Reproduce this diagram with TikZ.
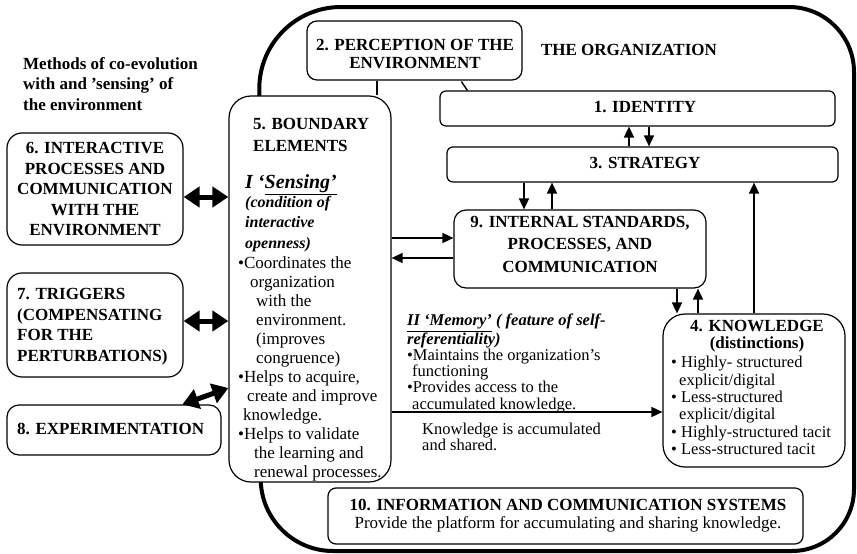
\documentclass[tikz,border=0pt]{standalone}
\usepackage{fontspec}
\setmainfont{Liberation Serif}
\usetikzlibrary{arrows.meta,calc}

\begin{document}
\begin{tikzpicture}[x=1pt,y=-1pt,
  box/.style={draw, line width=1.2pt, rounded corners=#1, fill=white, inner sep=0pt},
  box/.default=8pt,
  hd/.style={font=\fontsize{17}{20.5}\selectfont\bfseries, inner sep=0pt},
  txt/.style={font=\fontsize{17}{19}\selectfont, inner sep=0pt},
  arr/.style={line width=1.6pt, -{Triangle[length=11pt,width=10pt]}},
  dbl/.style={line width=5pt, {Triangle[length=16pt,width=20pt]}-{Triangle[length=16pt,width=20pt]}},
  link/.style={line width=1.4pt},
]
\useasboundingbox (0,0) rectangle (857,554);

% the organization's outer boundary
\draw[line width=4pt] (260,300) [rounded corners=82pt] -- (259,7)
  [rounded corners=65pt] -- (854,7) [rounded corners=62pt] -- (854,551)
  [rounded corners=72pt] -- (261,551) -- cycle;

% title texts
\node[hd, anchor=north west, align=left] (meth) at (23,57)
  {Methods of co-evolution\\with and ’sensing’ of\\the environment};
\node[hd] (org) at (629,50) {THE ORGANIZATION};

% boxes
\node[box=10pt, minimum width=215pt, minimum height=59pt] (b2) at (414.5,50.5) {};
\node[box=6pt, minimum width=395pt, minimum height=35pt] (b1) at (637.5,108.5) {};
\node[box=6pt, minimum width=391pt, minimum height=35pt] (b3) at (642.5,164.5) {};
\node[box=12pt, minimum width=252pt, minimum height=78pt] (b9) at (580,249) {};
\node[box=22pt, minimum width=182pt, minimum height=153pt] (b4) at (754,390.5) {};
\node[box=8pt, minimum width=475pt, minimum height=56pt] (b10) at (565.5,516) {};
\node[box=22pt, minimum width=162pt, minimum height=386pt] (b5) at (310,289) {};
\node[box=15pt, minimum width=176pt, minimum height=112pt] (b6) at (95,189) {};
\node[box=15pt, minimum width=176pt, minimum height=104pt] (b7) at (95,325) {};
\node[box=12pt, minimum width=214pt, minimum height=50pt] (b8) at (114,430) {};

% box texts
\node[hd, align=center, font=\fontsize{17}{18}\selectfont\bfseries] (t2) at (415,54)
  {2. PERCEPTION OF THE\\ENVIRONMENT};
\node[hd] (t1) at (645,107) {1. IDENTITY};
\node[hd] (t3) at (645,163) {3. STRATEGY};
\node[hd, align=center, font=\fontsize{17}{22.5}\selectfont\bfseries] (t9) at (580,244)
  {9. INTERNAL STANDARDS,\\PROCESSES, AND\\COMMUNICATION};
\node[hd, align=center, font=\fontsize{17}{17}\selectfont\bfseries] (t4) at (757,336.5)
  {4. KNOWLEDGE\\(distinctions)};
\node[txt, anchor=north west, align=left, font=\fontsize{16.5}{17.4}\selectfont] (t4l) at (671,356)
  {• Highly- structured\\\hspace*{8pt}explicit/digital\\• Less-structured\\\hspace*{8pt}explicit/digital\\• Highly-structured tacit\\• Less-structured tacit};
\node[hd, align=center] (t10a) at (568,505) {10. INFORMATION AND COMMUNICATION SYSTEMS};
\node[txt] (t10b) at (568,524) {Provide the platform for accumulating and sharing knowledge.};

\node[hd, align=center] (t6) at (95,189)
  {6. INTERACTIVE\\PROCESSES AND\\COMMUNICATION\\WITH THE\\ENVIRONMENT};
\node[hd, anchor=north west, align=left, font=\fontsize{17}{20.7}\selectfont\bfseries] (t7) at (17,288)
  {7. TRIGGERS\\(COMPENSATING\\FOR THE\\PERTURBATIONS)};
\node[hd, anchor=west] (t8) at (17,429) {8. EXPERIMENTATION};

% boundary elements texts
\node[hd, anchor=north west, align=left, font=\fontsize{17}{22}\selectfont\bfseries] (t5) at (253,118)
  {5. BOUNDARY\\ELEMENTS};
\node[anchor=north west, inner sep=0pt, font=\fontsize{20}{22}\selectfont\bfseries\itshape] (sens) at (245,174)
  {I ‘\underline{Sensing’}};
\node[anchor=north west, inner sep=0pt, align=left, font=\fontsize{16}{20.5}\selectfont\bfseries\itshape] (cond) at (245,196)
  {(condition of\\interactive\\openness)};
\node[txt, anchor=north west, align=left] (b5l) at (238,256)
  {•Coordinates the\\
   \hspace*{12pt}organization\\
   \hspace*{18pt}with the\\
   \hspace*{18pt}environment.\\
   \hspace*{18pt}(improves\\
   \hspace*{18pt}congruence)\\
   •Helps to acquire,\\
   \hspace*{9pt}create and improve\\
   \hspace*{5pt}knowledge.\\
   •Helps to validate\\
   \hspace*{16pt}the learning and\\
   \hspace*{16pt}renewal processes.};

% memory texts
\node[anchor=north west, inner sep=0pt, align=left, font=\fontsize{16.5}{16.3}\selectfont] (mem) at (407,314)
  {\textbf{\textit{\underline{II ‘Memory’} ( feature of self-}}\\
   \textbf{\textit{referentiality)}}\\
   •Maintains the organization’s\\
   \hspace*{5pt}functioning\\
   •Provides access to the\\
   \hspace*{5pt}accumulated knowledge.};
\node[anchor=north west, inner sep=0pt, align=left, font=\fontsize{16.5}{15}\selectfont] (acc) at (422,423)
  {Knowledge is accumulated\\and shared.};

% connector positions
\coordinate (xa) at (629,0);
\coordinate (xb) at (649,0);
\coordinate (xc) at (524,0);
\coordinate (xd) at (552,0);
\coordinate (xe) at (677,0);
\coordinate (xf) at (698,0);
\coordinate (xg) at (377,0);
\coordinate (ya) at (0,238);
\coordinate (yb) at (0,258);
\coordinate (yc) at (0,412);
\coordinate (y6) at (0,197);
\coordinate (y7) at (0,321);
\coordinate (y8) at (0,388);

% connectors
\draw[arr] (b3.north -| xa) -- (b1.south -| xa);
\draw[arr] (b1.south -| xb) -- (b3.north -| xb);
\draw[arr] (b3.south -| xc) -- (b9.north -| xc);
\draw[arr] (b9.north -| xd) -- (b3.south -| xd);
\draw[arr] (b5.east |- ya) -- (b9.west |- ya);
\draw[arr] (b9.west |- yb) -- (b5.east |- yb);
\draw[arr] (b9.south -| xe) -- (b4.north -| xe);
\draw[arr] (b4.north -| xf) -- (b9.south -| xf);
\draw[arr] (b4.north) -- (b4.north |- b3.south);
\draw[arr] (b5.east |- yc) -- (b4.west |- yc);
\draw[link] (b2.south -| xg) -- (b5.north -| xg);
\draw[link] ($(b2.south west)+(155,1)$) -- ($(b1.north west)+(28,0)$);

\draw[dbl] (b6.east |- y6) -- (b5.west |- y6);
\draw[dbl] (b7.east |- y7) -- (b5.west |- y7);
\draw[dbl] ($(b8.north west)+(176,0)$) -- (b5.west |- y8);
\end{tikzpicture}
\end{document}
